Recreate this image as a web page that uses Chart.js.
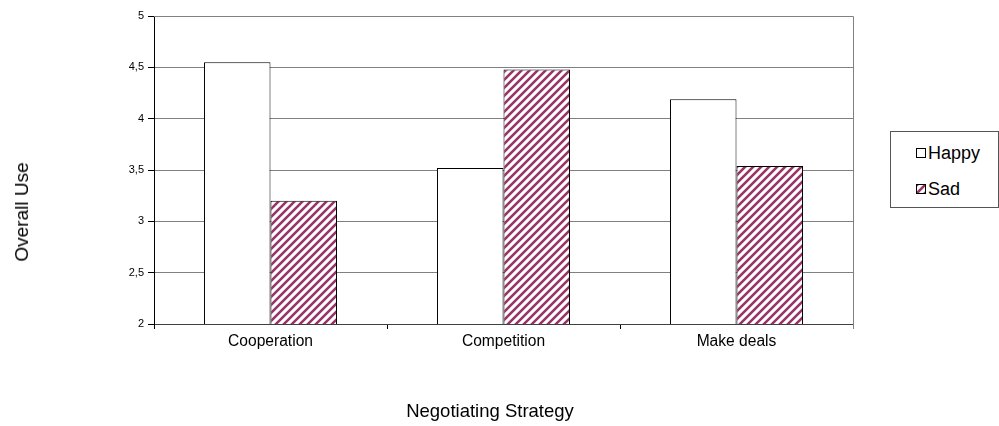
<!DOCTYPE html>
<html>
<head>
<meta charset="utf-8">
<script src="https://cdn.jsdelivr.net/npm/chart.js@4"></script>
<style>
  html, body { margin: 0; padding: 0; background: #fff; }
  #wrap { position: relative; width: 999px; height: 426px; font-family: Arial, "Liberation Sans", sans-serif; }
  #legend {
    position: absolute; left: 890px; top: 131px; width: 107px; height: 75px;
    border: 1px solid #555; font-size: 18px; color: #000; background: #fff;
  }
  .item { position: absolute; left: 25px; height: 20px; line-height: 20px; white-space: nowrap; }
  .swatch {
    display: inline-block; width: 8px; height: 8px; border: 1px solid #000;
    margin-right: 2px; vertical-align: 1px; background: #fff;
  }
  #xTitle {
    position: absolute; left: 390px; width: 200px; top: 400px; text-align: center;
    font-size: 18.5px; line-height: 22px; white-space: nowrap;
  }
  #yTitle {
    position: absolute; left: 22px; top: 212px; white-space: nowrap;
    font-size: 19px; line-height: 22px;
    transform: translate(-50%, -50%) rotate(-90deg);
  }
</style>
</head>
<body>
<div id="wrap">
  <canvas id="chartId" width="999" height="426"></canvas>
  <div id="yTitle">Overall Use</div>
  <div id="xTitle">Negotiating Strategy</div>
  <div id="legend">
    <div class="item" style="top:11px"><span class="swatch"></span>Happy</div>
    <div class="item" style="top:47px"><span class="swatch" id="sadSwatch"></span>Sad</div>
  </div>
</div>
<script>
const categories = ["Cooperation", "Competition", "Make deals"];
const happyValues = [4.55, 3.52, 4.19];
const sadValues = [3.2, 4.48, 3.54];
const seriesNames = ["Happy", "Sad"];
const yTicks = [2, 2.5, 3, 3.5, 4, 4.5, 5];

const FONT = 'Arial, "Liberation Sans", sans-serif';
const PLUM = "#993366";

// excel-like wide upward diagonal hatch
function makeHatch() {
  const c = document.createElement("canvas");
  c.width = 8;
  c.height = 8;
  const g = c.getContext("2d");
  g.fillStyle = "#fff";
  g.fillRect(0, 0, 8, 8);
  g.strokeStyle = PLUM;
  g.lineWidth = 2.6;
  g.beginPath();
  g.moveTo(-2, 10); g.lineTo(10, -2);
  g.moveTo(-6, 6); g.lineTo(6, -6);
  g.moveTo(2, 14); g.lineTo(14, 2);
  g.stroke();
  return c;
}
const hatchCanvas = makeHatch();
const hatch = document.getElementById("chartId").getContext("2d").createPattern(hatchCanvas, "repeat");
document.getElementById("sadSwatch").style.background = `url(${hatchCanvas.toDataURL()})`;

const plotBorder = {
  id: "plotBorder",
  afterDraw(chart) {
    const { ctx, chartArea: { top, bottom, left, right } } = chart;
    ctx.save();
    ctx.strokeStyle = "#808080";
    ctx.lineWidth = 1;
    ctx.beginPath();
    ctx.moveTo(left, top + 0.5);
    ctx.lineTo(Math.round(right) + 0.5, top + 0.5);
    ctx.lineTo(Math.round(right) + 0.5, bottom + 5);
    ctx.stroke();
    ctx.restore();
  },
};

new Chart(document.getElementById("chartId"), {
  type: "bar",
  data: {
    labels: categories,
    datasets: [
      {
        label: seriesNames[0],
        data: happyValues,
        backgroundColor: "#fff",
        borderColor: "#000",
        borderWidth: 1,
        borderSkipped: false,
      },
      {
        label: seriesNames[1],
        data: sadValues,
        backgroundColor: hatch,
        borderColor: "#000",
        borderWidth: 1,
        borderSkipped: false,
      },
    ],
  },
  options: {
    responsive: false,
    animation: false,
    events: [],
    layout: { padding: { top: 16, right: 146, left: 0, bottom: 0 } },
    datasets: { bar: { barPercentage: 1, categoryPercentage: 0.571 } },
    plugins: { legend: { display: false }, tooltip: { enabled: false } },
    scales: {
      x: {
        afterFit(scale) { scale.height = 102; },
        grid: {
          offset: true,
          drawOnChartArea: false,
          tickLength: 5,
          tickColor: "#000",
          color: "#000",
        },
        border: { color: "#404040" },
        ticks: { color: "#000", font: { family: FONT, size: 15.6 }, padding: 3 },
      },
      y: {
        min: 2,
        max: 5,
        afterFit(scale) { scale.width = 154; },
        afterBuildTicks(scale) { scale.ticks = yTicks.map((v) => ({ value: v })); },
        grid: { color: "#808080", tickLength: 6, tickColor: "#000" },
        border: { color: "#000" },
        ticks: {
          color: "#000",
          font: { family: FONT, size: 11 },
          padding: 4,
          callback: (v) => String(v).replace(".", ","),
        },
      },
    },
  },
  plugins: [plotBorder],
});
</script>
</body>
</html>
